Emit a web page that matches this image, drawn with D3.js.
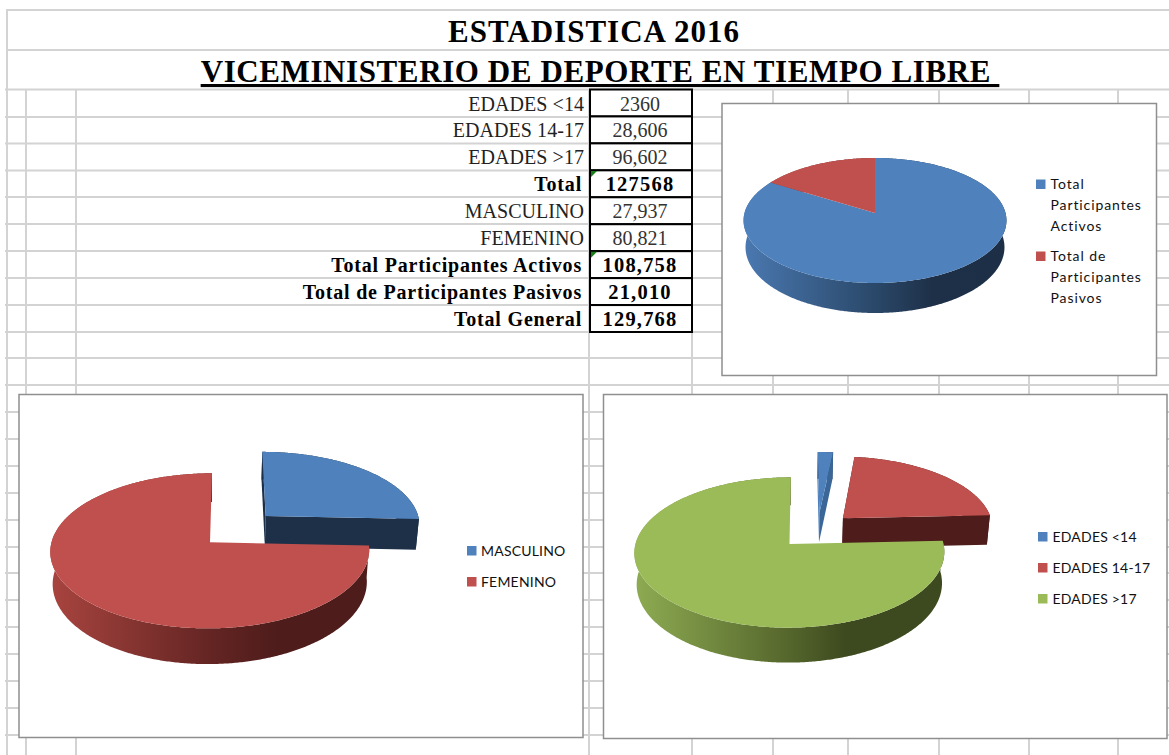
<!DOCTYPE html>
<html>
<head>
<meta charset="utf-8">
<script src="https://cdn.jsdelivr.net/npm/d3@7"></script>
<style>
  html, body { margin: 0; padding: 0; background: #fff; overflow: hidden; }
  svg { display: block; }
  .serif { font-family: "Liberation Serif", serif; fill: #000; }
  .legend { font-family: Lato, "Open Sans", sans-serif; font-size: 14px; fill: #111; }
</style>
</head>
<body>
<script>
const participationLabels = [["Total", "Participantes", "Activos"], ["Total de", "Participantes", "Pasivos"]];
const participationValues = [108758, 21010];
const genderLabels = ["MASCULINO", "FEMENINO"];
const genderValues = [27937, 80821];
const ageLabels = ["EDADES <14", "EDADES 14-17", "EDADES >17"];
const ageValues = [2360, 28606, 96602];

const titleLines = ["ESTADISTICA 2016", "VICEMINISTERIO DE DEPORTE EN TIEMPO LIBRE "];
const tableLabels = ["EDADES <14", "EDADES 14-17", "EDADES >17", "Total", "MASCULINO", "FEMENINO",
  "Total Participantes Activos", "Total de Participantes Pasivos", "Total General"];
const tableValues = ["2360", "28,606", "96,602", "127568", "27,937", "80,821", "108,758", "21,010", "129,768"];
const tableBold = [false, false, false, true, false, false, true, true, true];
const tableFlagged = [false, false, false, true, false, false, true, false, false];

// spreadsheet grid behind everything
const gridRows = [10, 50, 89.5, 117, 143.5, 170.5, 197, 224, 251, 278, 305, 332, 358, 385, 412, 439, 466, 493, 520, 547, 573, 600, 627, 654, 681, 708, 735];
const gridCols = [26, 76, 589, 692, 773, 848, 939, 1029, 1118];

// slice colours
const topColors = ["#4f81bd", "#c0504d", "#9bbb59"];
const cutColors = ["#1d3048", "#4d1c1b", "#3d4a1f"];

const width = 1169, height = 755;

const svg = d3.select("body").append("svg")
  .attr("width", width)
  .attr("height", height);
const defs = svg.append("defs");

// grid lines
const grid = svg.append("g").attr("stroke", "#d3d3d3").attr("stroke-width", 2);
grid.selectAll("line.row").data(gridRows).enter().append("line")
  .attr("class", "row")
  .attr("x1", (d) => d <= 50 ? 6 : 5)
  .attr("x2", width)
  .attr("y1", (d) => d)
  .attr("y2", (d) => d);
grid.selectAll("line.col").data(gridCols).enter().append("line")
  .attr("class", "col")
  .attr("x1", (d) => d)
  .attr("x2", (d) => d)
  .attr("y1", 89.5)
  .attr("y2", height);
grid.append("line").attr("x1", 7).attr("x2", 7).attr("y1", 10).attr("y2", height);

// titles
svg.append("text").attr("class", "serif")
  .attr("x", 594).attr("y", 42)
  .attr("text-anchor", "middle")
  .attr("font-size", 31).attr("font-weight", "bold")
  .attr("letter-spacing", 1)
  .text(titleLines[0]);
svg.append("text").attr("class", "serif")
  .attr("x", 600).attr("y", 82)
  .attr("text-anchor", "middle")
  .attr("font-size", 31).attr("font-weight", "bold")
  .attr("letter-spacing", 0.6)
  .attr("text-decoration", "underline")
  .style("white-space", "pre")
  .text(titleLines[1]);

// table
const rowScale = d3.scaleBand().domain(tableLabels).range([89.5, 332]);
const table = svg.append("g");
table.selectAll("rect").data(tableLabels).enter().append("rect")
  .attr("x", 590)
  .attr("y", (d) => rowScale(d))
  .attr("width", 102)
  .attr("height", rowScale.bandwidth())
  .attr("fill", "#fff")
  .attr("stroke", "#000")
  .attr("stroke-width", 2);
table.selectAll("text.label").data(tableLabels).enter().append("text")
  .attr("class", "label serif")
  .attr("x", (d, i) => tableBold[i] ? 582 : 584)
  .attr("y", (d) => rowScale(d) + 21)
  .attr("text-anchor", "end")
  .attr("font-size", 20)
  .attr("font-weight", (d, i) => tableBold[i] ? "bold" : "normal")
  .attr("letter-spacing", (d, i) => tableBold[i] ? 0.8 : 0.05)
  .style("fill", (d, i) => tableBold[i] ? "#000" : "#222")
  .text((d) => d);
table.selectAll("text.value").data(tableValues).enter().append("text")
  .attr("class", "value serif")
  .attr("x", 640)
  .attr("y", (d, i) => rowScale(tableLabels[i]) + 21)
  .attr("text-anchor", "middle")
  .attr("font-size", (d, i) => tableBold[i] ? 20.5 : 20)
  .attr("font-weight", (d, i) => tableBold[i] ? "bold" : "normal")
  .attr("letter-spacing", (d, i) => tableBold[i] ? 1.2 : 0)
  .style("fill", (d, i) => tableBold[i] ? "#000" : "#333")
  .text((d) => d);
table.selectAll("path").data(tableLabels.filter((d, i) => tableFlagged[i])).enter().append("path")
  .attr("d", d3.line()([[591, 171], [597, 171], [591, 177]]))
  .attr("transform", (d) => `translate(0,${rowScale(d) - rowScale("Total")})`)
  .attr("fill", "#1a7f1a");

// draws one 3D pie: the disc is projected with a small perspective so the
// far half is foreshortened the way the spreadsheet's charts are
function drawPie(opts) {
  const pieAngles = d3.pie().sort(null)(opts.values);
  const project = (u, v, low) => {
    const s = 1 / (1 + opts.persp * v);
    const shrink = low ? 0.985 : 1;
    return [
      opts.vanishX + (opts.cx + opts.radius * u * shrink - opts.vanishX) * s,
      opts.cy - opts.tilt * v * s + (low ? opts.depth * s : 0)
    ];
  };
  const path = d3.line();

  svg.append("rect")
    .attr("x", opts.box[0]).attr("y", opts.box[1])
    .attr("width", opts.box[2]).attr("height", opts.box[3])
    .attr("fill", "#fff").attr("stroke", "#8f8f8f").attr("stroke-width", 1.5);

  const walls = svg.append("g");
  const tops = svg.append("g");
  pieAngles.forEach((slice, i) => {
    const [ex, ey] = opts.explode[i];
    const arcAngles = d3.range(slice.startAngle, slice.endAngle, 0.01).concat(slice.endAngle);
    const rim = (low) => arcAngles.map((a) => project(ex + Math.sin(a), ey + Math.cos(a), low));
    const apex = (low) => project(ex, ey, low);
    const topRim = rim(false), lowRim = rim(true);
    const stopsId = "wall-" + opts.id + "-" + i;

    // wall shading runs from left to right across each pie
    const sliceGrad = defs.append("linearGradient")
      .attr("id", stopsId)
      .attr("gradientUnits", "userSpaceOnUse")
      .attr("x1", opts.cx - opts.radius).attr("x2", opts.cx + opts.radius)
      .attr("y1", 0).attr("y2", 0);
    sliceGrad.selectAll("stop").data(opts.wallStops[i]).enter().append("stop")
      .attr("offset", (d) => d[0])
      .attr("stop-color", (d) => d[1]);

    // outer wall
    walls.append("path")
      .attr("d", path(topRim.concat(lowRim.slice().reverse())) + "Z")
      .attr("fill", `url(#${stopsId})`);
    // cut faces, only seen on the pulled out slices
    if (ex !== 0 || ey !== 0) {
      walls.append("path")
        .attr("d", path([apex(false), topRim[0], lowRim[0], apex(true)]) + "Z")
        .attr("fill", opts.cutStart[i]);
      walls.append("path")
        .attr("d", path([apex(false), topRim[topRim.length - 1], lowRim[lowRim.length - 1], apex(true)]) + "Z")
        .attr("fill", opts.cutEnd[i]);
    }
    // top face
    tops.append("path")
      .attr("d", path([apex(false)].concat(topRim)) + "Z")
      .attr("fill", topColors[i]);
  });

  // legend
  const legend = svg.append("g");
  let entryY = opts.legendY;
  opts.labels.forEach((label, i) => {
    const lines = Array.isArray(label) ? label : [label];
    legend.append("rect")
      .attr("x", opts.legendX).attr("y", entryY - 9.5)
      .attr("width", 9.5).attr("height", 9.5)
      .attr("fill", topColors[i]);
    legend.selectAll(null).data(lines).enter().append("text")
      .attr("class", "legend")
      .attr("x", opts.legendX + opts.legendGap)
      .attr("y", (d, j) => entryY + j * 21)
      .attr("letter-spacing", opts.legendSpacing)
      .text((d) => d);
    entryY += opts.legendStep;
  });
}

const blueStops = [[0, "#4a78b0"], [0.5, "#2a4869"], [0.72, "#1e3048"], [1, "#1d2f47"]];
const redStops = [[0, "#a8443f"], [0.5, "#642523"], [0.72, "#4d1c1b"], [1, "#4d1c1b"]];
const greenStops = [[0, "#8dab52"], [0.5, "#55662c"], [0.68, "#3d4a1f"], [1, "#3d4a1f"]];

drawPie({
  id: "participation", values: participationValues, labels: participationLabels,
  box: [722, 103.5, 434.5, 272],
  cx: 875, cy: 213, vanishX: 875, radius: 130.5, tilt: 61.6, persp: 0.12, depth: 26.4,
  explode: [[0, 0], [0, 0]],
  wallStops: [blueStops, redStops],
  cutStart: [cutColors[0], cutColors[1]], cutEnd: [cutColors[0], cutColors[1]],
  legendX: 1036, legendGap: 14.5, legendY: 189, legendStep: 72, legendSpacing: 0.9
});

drawPie({
  id: "gender", values: genderValues, labels: genderLabels,
  box: [19, 394.5, 564, 343],
  cx: 210, cy: 542.3, vanishX: 230, radius: 158.5, tilt: 76.6, persp: 0.11, depth: 31.8,
  explode: [[0.36, 0.357], [0, 0]],
  wallStops: [blueStops, redStops],
  cutStart: [cutColors[0], cutColors[1]], cutEnd: [cutColors[0], cutColors[1]],
  legendX: 467, legendGap: 14, legendY: 555.5, legendStep: 31, legendSpacing: 0.2
});

drawPie({
  id: "age", values: ageValues, labels: ageLabels,
  box: [603.5, 394.5, 563.5, 344],
  cx: 789.5, cy: 544, vanishX: 802, radius: 154, tilt: 74.2, persp: 0.113, depth: 31,
  explode: [[0.2, 0.442], [0.358, 0.36], [0, 0]],
  wallStops: [blueStops, redStops, greenStops],
  cutStart: [topColors[0], cutColors[1], cutColors[2]], cutEnd: ["#3a6698", cutColors[1], cutColors[2]],
  legendX: 1038, legendGap: 14.5, legendY: 541.5, legendStep: 31, legendSpacing: 0.2
});
</script>
</body>
</html>
